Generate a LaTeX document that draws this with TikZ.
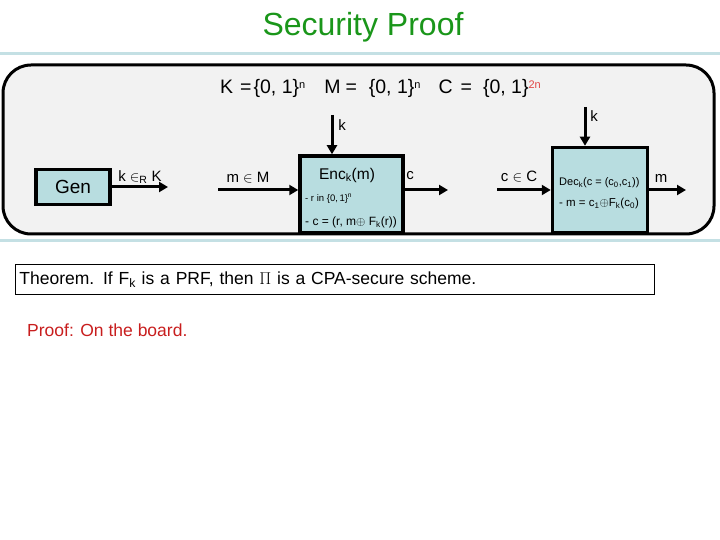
\documentclass[tikz,border=0pt]{standalone}
\usepackage{fontspec}
\setmainfont{Liberation Sans}
\usetikzlibrary{arrows.meta}
\definecolor{titlegreen}{RGB}{26,150,26}
\definecolor{boxfill}{RGB}{184,221,224}
\definecolor{tealline}{RGB}{196,224,228}
\definecolor{framefill}{RGB}{242,242,242}
\definecolor{proofred}{RGB}{200,30,30}
\definecolor{supred}{RGB}{225,70,70}
\newcommand{\fsz}[1]{\fontsize{#1bp}{#1bp}\selectfont}
\newcommand{\supn}[1]{\raisebox{5bp}{\fsz{11}#1}}
\tikzset{
  algbox/.style={draw=black, line width=3.5bp, fill=boxfill, inner sep=0pt},
  arr/.style={line width=3bp, -{Triangle[length=9bp,width=10bp]}},
  lbl/.style={inner sep=0pt, font=\fsz{15}},
  small/.style={inner sep=0pt, anchor=west, font=\fsz{10}},
  sepline/.style={draw=tealline, line width=3bp},
}
\begin{document}
\begin{tikzpicture}[x=1bp,y=-1bp]
\useasboundingbox (0,0) rectangle (720,540);
% title
\node[text=titlegreen, font=\fsz{32}, inner sep=0pt] (title) at (363,27) {Security Proof};
\draw[sepline] (0,54) -- (720,54);
\draw[sepline] (0,241) -- (720,241);
% frame
\draw[line width=3bp, fill=framefill, rounded corners=28bp] (3,65) rectangle (714,234);
% sets
\node[anchor=west, font=\fsz{19.5}, inner sep=0pt] (sets) at (220,88) {K\hspace{7bp}=\hspace{2bp}\{0, 1\}\supn{n}\hspace{19bp}M\hspace{5bp}=\hspace{12bp}\{0, 1\}\supn{n}\hspace{18bp}C\hspace{8bp}=\hspace{11bp}\{0, 1\}\supn{\color{supred}2n}};
% boxes
\node[algbox, minimum width=74bp, minimum height=35bp, font=\fsz{19}] (gen) at (73,187) {Gen};
\node[algbox, minimum width=103bp, minimum height=77bp] (enc) at (351.5,194.5) {};
\node[algbox, minimum width=95bp, minimum height=85bp] (dec) at (600,190) {};
% enc text
\node[inner sep=0pt, font=\fsz{15.5}] (enct) at (347,175) {Enc\textsubscript{k}(m)};
\node[small, font=\fsz{9.5}] (enc1) at (305,199) {- r in \{0,\,1\}\textsuperscript{n}};
\node[small, font=\fsz{12}] (enc2) at (305,222) {- c = (r, m$\oplus$ F\textsubscript{k}(r))};
% dec text
\node[small, font=\fsz{11}] (dec1) at (559,183) {Dec\textsubscript{k}(c = (c\textsubscript{0},c\textsubscript{1}))};
\node[small, font=\fsz{11.5}] (dec2) at (559,204) {- m = c\textsubscript{1}$\oplus$F\textsubscript{k}(c\textsubscript{0})};
% coordinates for free ends
\coordinate (g1) at (168,187);
\coordinate (m0) at (218,190);
\coordinate (k0) at (332,115);
\coordinate (c1) at (448,190);
\coordinate (c0) at (497,190);
\coordinate (k1) at (585,107);
\coordinate (m1) at (686,190);
% arrows
\draw[arr] (gen.east) -- (g1);
\draw[arr] (m0) -- (m0 -| enc.west);
\draw[arr] (k0) -- (k0 |- enc.north);
\draw[arr] (c1 -| enc.east) -- (c1);
\draw[arr] (c0) -- (c0 -| dec.west);
\draw[arr] (k1) -- (k1 |- dec.north);
\draw[arr] (m1 -| dec.east) -- (m1);
% labels
\node[lbl] (lg) at (140,177) {k $\in$\textsubscript{R} K};
\node[lbl] (lm) at (248,178) {m $\in$ M};
\node[lbl] (lk0) at (342,125) {k};
\node[lbl] (lc) at (410,176) {c};
\node[lbl] (lc0) at (519,177) {c $\in$ C};
\node[lbl] (lk1) at (594,116) {k};
\node[lbl] (lm1) at (661,178) {m};
% theorem
\node[draw=black, line width=0.8bp, anchor=north west, minimum height=30bp, text width=631bp, inner xsep=4bp, align=left, font=\fsz{17.5}] (thm) at (15,264) {Theorem. If F\textsubscript{k} is a PRF, then $\Pi$ is a CPA-secure scheme.};
\node[anchor=west, inner sep=0pt, text=proofred, font=\fsz{17.5}] (proof) at (27,330) {Proof: On the board.};
\end{tikzpicture}
\end{document}
